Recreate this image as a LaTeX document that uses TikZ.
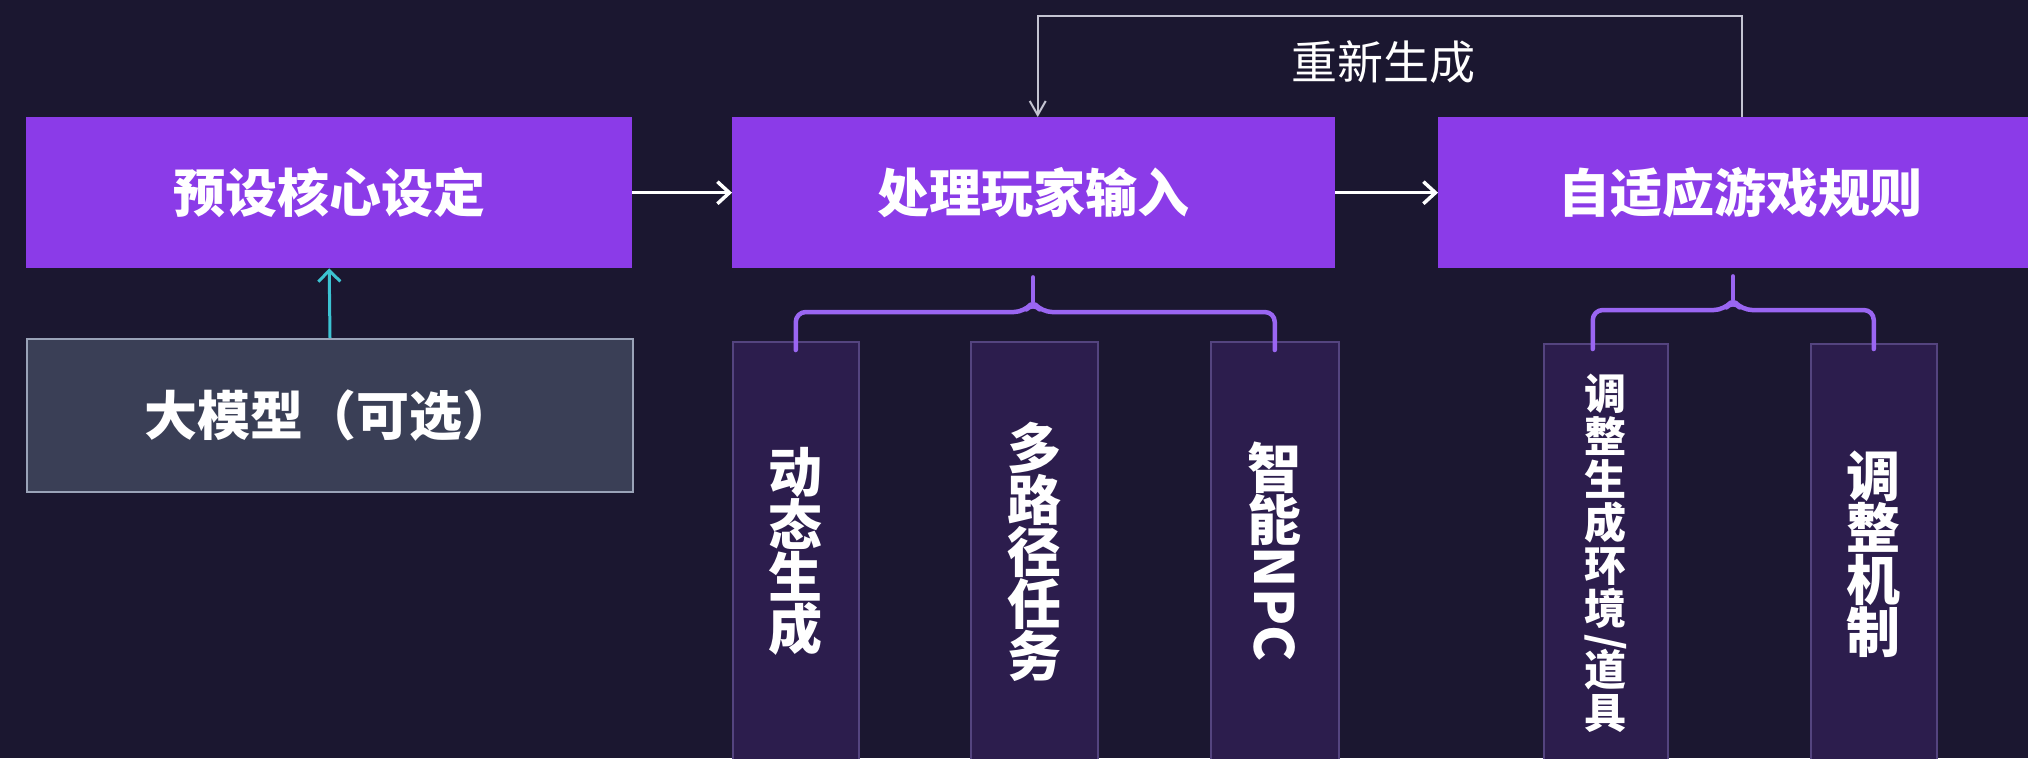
\documentclass[tikz,border=0pt]{standalone}
\usepackage{fontspec}
\setmainfont{Noto Sans CJK SC}
\usetikzlibrary{arrows.meta}
\definecolor{bg}{HTML}{1B1730}
\definecolor{mainpurple}{HTML}{8B3BE8}
\definecolor{subfill}{HTML}{2C1D4D}
\definecolor{subline}{HTML}{54447F}
\definecolor{llmfill}{HTML}{3A3F56}
\definecolor{llmline}{HTML}{9AA3B8}
\definecolor{bracecol}{HTML}{9A66F2}
\definecolor{cyanarrow}{HTML}{3CC3D2}
\definecolor{fbline}{HTML}{C4C4D2}
\begin{document}
\begin{tikzpicture}[x=1pt,y=-1pt,
  mainbox/.style={fill=mainpurple, draw=none, anchor=north west, inner sep=0pt,
    minimum height=151pt, text=white, font=\fontsize{52}{56}\selectfont\bfseries},
  llmbox/.style={fill=llmfill, draw=llmline, line width=2pt, anchor=north west, inner sep=0pt,
    minimum width=606pt, minimum height=153pt, text=white, font=\fontsize{53}{56}\selectfont\bfseries},
  subbox/.style={fill=subfill, draw=subline, line width=1.5pt, anchor=north west,
    minimum height=420pt, inner sep=0pt, text=white, align=center, text width=80pt,
    font=\fontsize{54}{52}\selectfont\bfseries},
  smallsub/.style={subbox, font=\fontsize{42}{43}\selectfont\bfseries},
  flow/.style={draw=white, line width=3.5pt, -{Straight Barb[length=12pt,width=22pt]}},
  llmflow/.style={draw=cyanarrow, line width=3pt, -{Straight Barb[length=11pt,width=22pt]}},
  fb/.style={draw=fbline, line width=2pt, -{Straight Barb[length=14pt,width=16pt]}},
  brace/.style={draw=bracecol, line width=4.5pt, line cap=round, line join=round}
]
\useasboundingbox (0,0) rectangle (2028,758);
\clip (0,0) rectangle (2028,758);
\fill[bg] (0,0) rectangle (2028,758);

% main boxes
\node[mainbox, minimum width=606pt] (b1) at (26,117) {预设核心设定};
\node[mainbox, minimum width=603pt] (b2) at (732,117) {处理玩家输入};
\node[mainbox, minimum width=604pt] (b3) at (1438,117) {自适应游戏规则};

% optional model
\node[llmbox] (llm) at (26,338) {大模型（可选）};

% sub boxes
\node[subbox, minimum width=126pt] (s1) at (732,341) {动\\态\\生\\成};
\node[subbox, minimum width=127pt] (s2) at (970,341) {多\\路\\径\\任\\务};
\node[subbox, minimum width=128pt] (s3) at (1210,341) {智\\能\\\rotatebox[origin=c]{-90}{NPC}};
\node[smallsub, minimum width=124pt] (t1) at (1543,343) {调\\整\\生\\成\\环\\境\\[-12pt]\rotatebox[origin=c]{-90}{/}\\[-13pt]道\\具};
\node[subbox, minimum width=126pt] (t2) at (1810,343) {调\\整\\机\\制};

% connectors
\draw[flow] (b1.east) -- (b2.west);
\draw[flow] (b2.east) -- (b3.west);
\draw[llmflow] (llm.north) -- (b1.south);

% feedback loop
\coordinate (fbtop) at (1390,16);
\draw[fb] ([xshift=2pt]b3.north) |- (fbtop) -| ([xshift=4pt]b2.north);
\node[text=white, font=\fontsize{46}{50}\selectfont, inner sep=0pt] (regen) at (1383,62) {重新生成};

% brace under b2
\coordinate (c2l) at (1024,312);
\coordinate (c2) at (1033,302);
\coordinate (c2r) at (1042,312);
\draw[brace, rounded corners=10pt] ([yshift=-9pt]s1.north) |- (c2l) -- (c2) -- (c2r) -| ([yshift=-9pt]s3.north);
\draw[brace] (c2) -- ([yshift=-9pt]c2 |- b2.south);

% brace under b3
\coordinate (c3l) at (1724,310);
\coordinate (c3) at (1733,300);
\coordinate (c3r) at (1742,310);
\draw[brace, rounded corners=10pt] ([xshift=-13pt,yshift=-6pt]t1.north) |- (c3l) -- (c3) -- (c3r) -| ([yshift=-6pt]t2.north);
\draw[brace] (c3) -- ([yshift=-8pt]c3 |- b3.south);
\end{tikzpicture}
\end{document}
